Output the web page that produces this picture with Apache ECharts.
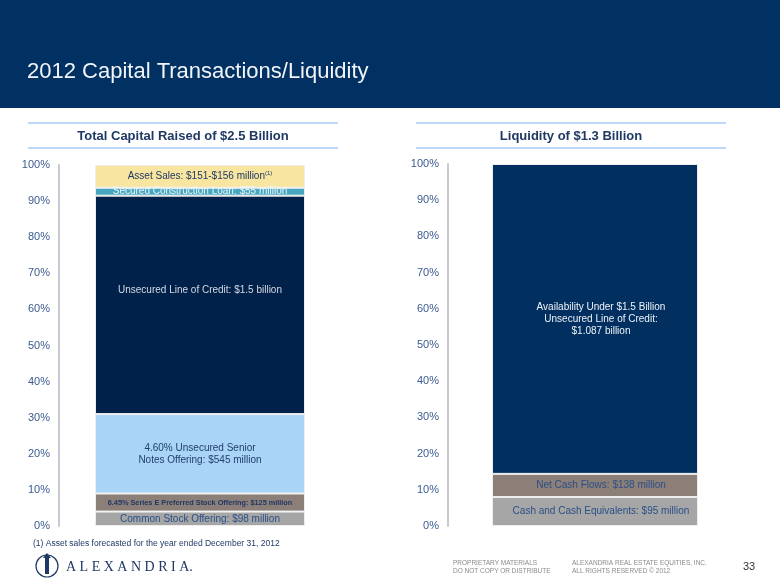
<!DOCTYPE html>
<html>
<head>
<meta charset="utf-8">
<script src="https://cdn.jsdelivr.net/npm/echarts@6/dist/echarts.min.js"></script>
<style>html,body{margin:0;padding:0;background:#fff}#c{width:780px;height:585px}</style>
</head>
<body>
<div id="c"></div>
<script>
// ---- data (percent of each stacked bar, bottom to top) ----
const leftNames = [
  'Common Stock Offering: $98 million',
  '6.45% Series E Preferred Stock Offering: $125 million',
  '4.60% Unsecured Senior\nNotes Offering: $545 million',
  'Unsecured Line of Credit: $1.5 billion',
  'Secured Construction Loan: $55 million',
  'Asset Sales: $151-$156 million'
];
const leftValues = [4.0, 5.0, 22.0, 60.5, 2.2, 6.3];
const rightNames = [
  'Cash and Cash Equivalents: $95 million',
  'Net Cash Flows: $138 million',
  'Availability Under $1.5 Billion\nUnsecured Line of Credit:\n$1.087 billion'
];
const rightValues = [8.0, 6.4, 85.6];
const leftTitle = 'Total Capital Raised of $2.5 Billion';
const rightTitle = 'Liquidity of $1.3 Billion';
const pageTitle = '2012 Capital Transactions/Liquidity';
const footnote = '(1) Asset sales forecasted for the year ended December 31, 2012';

const FONT = '"Liberation Sans", Arial, sans-serif';
const leftColors = ['#a6a6a6', '#8c7f78', '#a9d3f7', '#00214a', '#47a6bf', '#f8e6a0'];
const leftText = ['#2a4f88', '#1f3864', '#22406e', '#d4d9e2', '#eaf6fa', '#1f3864'];
const leftSize = [10, 7.3, 10, 10, 10, 10];
const rightColors = ['#a6a6a6', '#8c7f78', '#002f60'];
const rightText = ['#2a4f88', '#2a4f88', '#eef2f8'];

const chart = echarts.init(document.getElementById('c'), null, {renderer: 'canvas'});

function yAxis(gi) {
  return {
    type: 'value', gridIndex: gi, min: 0, max: 100, interval: 10,
    axisLine: {show: true, lineStyle: {color: '#c9c9d4', width: 2}},
    axisTick: {show: false}, splitLine: {show: false},
    axisLabel: {formatter: '{value}%', color: '#3b5b8f', fontSize: 11, fontFamily: FONT, margin: 9}
  };
}
function xAxis(gi) {
  return {type: 'category', gridIndex: gi, data: [''], axisLine: {show: false}, axisTick: {show: false}, axisLabel: {show: false}};
}

const series = [];
leftNames.forEach((n, i) => {
  const lab = {
    show: true, position: 'inside', color: leftText[i], fontSize: leftSize[i], fontFamily: FONT,
    fontWeight: i === 1 ? 'bold' : 'normal', lineHeight: 12,
    formatter: () => n
  };
  if (i === 3) lab.offset = [0, -15];
  if (i === 5) {
    lab.formatter = () => '{a|' + n + '}{s|(1)}';
    lab.rich = {a: {fontSize: 10, color: leftText[i], fontFamily: FONT}, s: {fontSize: 6, color: leftText[i], fontFamily: FONT, padding: [0, 0, 7, 0]}};
  }
  series.push({
    name: n, type: 'bar', stack: 'L', xAxisIndex: 0, yAxisIndex: 0, barWidth: 210,
    data: [leftValues[i]],
    itemStyle: {color: leftColors[i], borderColor: '#eeeeee', borderWidth: 1},
    label: lab, emphasis: {disabled: true}
  });
});
rightNames.forEach((n, i) => {
  series.push({
    name: n, type: 'bar', stack: 'R', xAxisIndex: 1, yAxisIndex: 1, barWidth: 206,
    data: [rightValues[i]],
    itemStyle: {color: rightColors[i], borderColor: '#eeeeee', borderWidth: 1},
    label: {show: true, position: 'inside', color: rightText[i], fontSize: 10, fontFamily: FONT, lineHeight: 12, offset: [6, 0], formatter: () => n},
    emphasis: {disabled: true}
  });
});

const gfx = [
  {type: 'rect', shape: {x: 0, y: 0, width: 780, height: 108}, style: {fill: '#003162'}, z: -1},
  {type: 'text', left: 27, top: 61, style: {text: pageTitle, fill: '#f2f4f8', font: '22px ' + FONT}},
  // subtitle rules
  {type: 'line', shape: {x1: 28, y1: 123, x2: 338, y2: 123}, style: {stroke: '#bcdaf7', lineWidth: 2}},
  {type: 'line', shape: {x1: 28, y1: 148, x2: 338, y2: 148}, style: {stroke: '#bcdaf7', lineWidth: 2}},
  {type: 'line', shape: {x1: 416, y1: 123, x2: 726, y2: 123}, style: {stroke: '#bcdaf7', lineWidth: 2}},
  {type: 'line', shape: {x1: 416, y1: 148, x2: 726, y2: 148}, style: {stroke: '#bcdaf7', lineWidth: 2}},
  {type: 'text', x: 183, y: 136, style: {text: leftTitle, fill: '#1f3864', font: 'bold 13px ' + FONT, textAlign: 'center', textVerticalAlign: 'middle'}},
  {type: 'text', x: 571, y: 136, style: {text: rightTitle, fill: '#1f3864', font: 'bold 13px ' + FONT, textAlign: 'center', textVerticalAlign: 'middle'}},
  // footnote
  {type: 'text', x: 33, y: 544, style: {text: footnote, fill: '#1f3864', font: '8.5px ' + FONT, textVerticalAlign: 'middle'}},
  // logo
  {type: 'circle', shape: {cx: 47, cy: 566, r: 11}, style: {fill: 'none', stroke: '#1f3864', lineWidth: 1.2}},
  {type: 'rect', shape: {x: 45, y: 558, width: 4, height: 16}, style: {fill: '#1f3864'}},
  {type: 'polygon', shape: {points: [[43, 558], [47, 553], [51, 558]]}, style: {fill: '#1f3864'}},
  {type: 'text', x: 66, y: 567, style: {text: 'A L E X A N D R I A.', fill: '#1f3864', font: '14px "Liberation Serif", serif', textVerticalAlign: 'middle'}},
  {type: 'text', x: 453, y: 563, style: {text: 'PROPRIETARY MATERIALS', fill: '#8a8a8a', font: '6.5px ' + FONT, textVerticalAlign: 'middle'}},
  {type: 'text', x: 453, y: 571, style: {text: 'DO NOT COPY OR DISTRIBUTE', fill: '#8a8a8a', font: '6.5px ' + FONT, textVerticalAlign: 'middle'}},
  {type: 'text', x: 572, y: 563, style: {text: 'ALEXANDRIA REAL ESTATE EQUITIES, INC.', fill: '#8a8a8a', font: '6.5px ' + FONT, textVerticalAlign: 'middle'}},
  {type: 'text', x: 572, y: 571, style: {text: 'ALL RIGHTS RESERVED \u00A9 2012', fill: '#8a8a8a', font: '6.5px ' + FONT, textVerticalAlign: 'middle'}},
  {type: 'text', x: 743, y: 567, style: {text: '33', fill: '#333333', font: '11px ' + FONT, textVerticalAlign: 'middle'}}
];

chart.setOption({
  animation: false,
  backgroundColor: '#ffffff',
  grid: [
    {left: 59, top: 165, width: 282, height: 361},
    {left: 448, top: 164, width: 294, height: 362}
  ],
  xAxis: [xAxis(0), xAxis(1)],
  yAxis: [yAxis(0), yAxis(1)],
  series: series,
  graphic: gfx
});
</script>
</body>
</html>
